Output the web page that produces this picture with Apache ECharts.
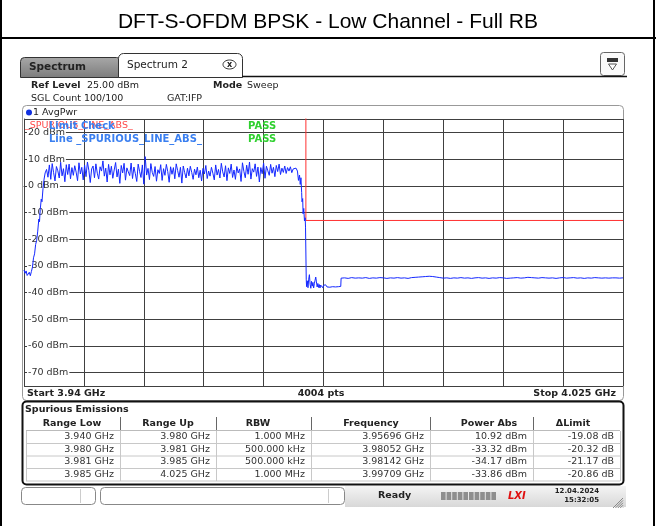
<!DOCTYPE html>
<html>
<head>
<meta charset="utf-8">
<title>Spurious Emissions</title>
<script src="https://cdn.jsdelivr.net/npm/echarts@6/dist/echarts.min.js"></script>
<style>
  html, body { margin: 0; padding: 0; background: #fff; }
  #chart { width: 656px; height: 526px; }
</style>
</head>
<body>
<div id="chart"></div>
<script>
// sweep span, MHz
const startMHz = 3940
const stopMHz = 4025

// limit line (SPURIOUS_LINE_ABS_), MHz / dBm
const limitFreq = [3940, 3980, 3980, 4025]
const limitLevel = [30, 30, -13, -13]

// trace 1 AvgPwr - lower band edge, [MHz, dBm]
const lowEdge = [
  [3940.0, -31.6], [3940.15, -32.8], [3940.3, -31.9], [3940.45, -33.6], [3940.6, -33.9],
  [3940.75, -32.4], [3940.9, -33.7], [3941.05, -32.1], [3941.2, -30.5], [3941.35, -27.0],
  [3941.5, -25.5], [3941.65, -22.0], [3941.8, -20.4], [3941.95, -17.0], [3942.1, -12.5],
  [3942.2, -13.5], [3942.3, -9.0], [3942.45, -5.0], [3942.55, -6.0], [3942.7, -1.0],
  [3942.85, 2.5], [3943.0, 4.8]
]

// in-band part, sampled every 0.2 MHz from 3943.2 MHz
const bandStartMHz = 3943.2
const bandStepMHz = 0.2
const bandLevels = [
  6.1, 3.2, 7.8, 2.4, 8.3, 4.9, 1.8, 7.2, 5.6, 2.9, 8.8, 3.7, 6.4, 1.5, 7.9, 4.2, 8.1, 2.6, 6.8, 3.9,
  7.5, 5.1, 1.9, 8.6, 4.4, 6.9, 2.2, 7.7, 3.4, 8.9, 5.8, 1.2, 6.3, 7.4, 3.0, 8.2, 4.7, 2.5, 7.1, 5.5,
  9.3, 3.6, 6.6, 1.4, 8.0, 4.1, 7.3, 2.8, 5.9, 8.7, 3.3, 6.2, 0.9, 7.6, 4.8, 8.4, 2.1, 6.7, 5.2, 3.8,
  8.5, 2.7, 7.0, 4.5, 1.6, 8.1, 5.4, 3.1, 7.8, 0.6, 10.9, 4.0, 6.5, 2.3, 8.3, 5.0, 3.5, 7.2, 1.7, 6.0,
  4.6, 7.9, 2.0, 6.4, 3.9, 8.0, 5.3, 1.3, 7.1, 4.3, 6.8, 2.6, 8.2, 5.7, 3.2, 6.9, 1.0, 7.4, 4.9, 2.9,
  6.6, 3.7, 7.3, 5.0, 2.4, 6.2, 4.1, 7.0, 3.0, 5.8, 1.8, 6.5, 4.4, 7.6, 2.7, 5.5, 3.6, 6.9, 4.7, 2.2,
  7.8, 4.0, 6.1, 2.9, 8.4, 5.2, 3.3, 7.5, 1.9, 6.7, 4.6, 8.1, 3.1, 5.9, 2.4, 7.2, 4.8, 6.3, 1.6, 8.6,
  5.4, 3.0, 7.7, 4.3, 8.9, 2.5, 6.4, 5.1, 8.2, 3.5, 7.0, 1.4, 6.8, 4.5, 8.5, 2.8, 7.3, 5.6, 3.9, 8.0,
  4.7, 6.9, 3.4, 7.6, 5.3, 8.1, 4.2, 6.6, 5.0, 7.4, 4.6, 6.8, 5.5, 7.1, 4.9, 6.3, 5.8, 6.6
]

// upper band edge, [MHz, dBm]
const highEdge = [
  [3978.8, 5.5], [3978.95, 2.0], [3979.1, 4.0], [3979.2, 0.5], [3979.3, 3.0], [3979.4, -2.5],
  [3979.45, -6.0], [3979.55, -4.8], [3979.6, -10.5], [3979.7, -8.5], [3979.8, -13.2],
  [3979.9, -12.0], [3979.95, -15.5], [3980.05, -35.0]
]

// 500 kHz RBW ranges 3.980 - 3.985 GHz, [MHz, dBm]
const floorA = [
  [3980.1, -37.8], [3980.2, -35.6], [3980.3, -38.2], [3980.4, -35.0], [3980.5, -33.3],
  [3980.6, -36.9], [3980.7, -38.4], [3980.8, -35.8], [3980.9, -37.6], [3981.0, -36.2],
  [3981.1, -38.3], [3981.2, -36.7], [3981.3, -35.4], [3981.4, -34.2], [3981.5, -36.0],
  [3981.6, -37.9], [3981.7, -36.6], [3981.8, -38.1], [3981.9, -37.0], [3982.0, -38.3],
  [3982.1, -37.2], [3982.2, -37.9], [3982.3, -37.4], [3982.4, -38.2], [3982.5, -37.3],
  [3982.6, -37.8], [3982.8, -37.1], [3983.0, -37.9], [3983.2, -37.4], [3983.4, -38.0],
  [3983.6, -37.3], [3983.8, -37.8], [3984.0, -37.2], [3984.2, -37.9], [3984.4, -37.4],
  [3984.6, -37.8], [3984.8, -37.5], [3984.95, -37.7]
]

// 1 MHz RBW range 3.985 - 4.025 GHz, every 0.5 MHz
const floorBStartMHz = 3985
const floorBStepMHz = 0.5
const floorBLevels = [
  -34.6, -34.5, -34.7, -34.4, -34.6, -34.5, -34.6, -34.4, -34.7, -34.5,
  -34.6, -34.4, -34.5, -34.7, -34.5, -34.6, -34.4, -34.6, -34.5, -34.7,
  -34.4, -34.3, -34.2, -34.1, -34.0, -33.9, -34.0, -34.2, -34.4, -34.6,
  -34.5, -34.7, -34.5, -34.6, -34.4, -34.6, -34.5, -34.7, -34.5, -34.4,
  -34.6, -34.5, -34.7, -34.5, -34.6, -34.4, -34.5, -34.7, -34.6, -34.5,
  -34.4, -34.6, -34.5, -34.3, -34.4, -34.5, -34.6, -34.4, -34.5, -34.6,
  -34.5, -34.7, -34.5, -34.4, -34.6, -34.5, -34.4, -34.6, -34.5, -34.7,
  -34.5, -34.6, -34.4, -34.5, -34.6, -34.5, -34.6, -34.5, -34.5, -34.6, -34.5
]

// spurious emissions table
const tableHead = ['Range Low', 'Range Up', 'RBW', 'Frequency', 'Power Abs', '\u0394Limit']
const rangeLow = ['3.940 GHz', '3.980 GHz', '3.981 GHz', '3.985 GHz']
const rangeUp = ['3.980 GHz', '3.981 GHz', '3.985 GHz', '4.025 GHz']
const rbw = ['1.000 MHz', '500.000 kHz', '500.000 kHz', '1.000 MHz']
const peakFreq = ['3.95696 GHz', '3.98052 GHz', '3.98142 GHz', '3.99709 GHz']
const powerAbs = ['10.92 dBm', '-33.32 dBm', '-34.17 dBm', '-33.86 dBm']
const deltaLimit = ['-19.08 dB', '-20.32 dB', '-21.17 dB', '-20.86 dB']

// build trace (x as offset from start so the 8.5 MHz grid starts at 0)
const trace = []
lowEdge.forEach(p => trace.push([p[0] - startMHz, p[1]]))
bandLevels.forEach((v, i) => trace.push([bandStartMHz + i * bandStepMHz - startMHz, v]))
highEdge.forEach(p => trace.push([p[0] - startMHz, p[1]]))
floorA.forEach(p => trace.push([p[0] - startMHz, p[1]]))
floorBLevels.forEach((v, i) => trace.push([floorBStartMHz + i * floorBStepMHz - startMHz, v]))

const limit = limitFreq.map((f, i) => [f - startMHz, limitLevel[i]])

// ---- screen chrome (graphic elements) ----
const ui = '"DejaVu Sans", Verdana, sans-serif'
const g = []

function text(x, y, s, o) {
  o = o || {}
  g.push({
    type: 'text', x: x, y: y, z: o.z || 20,
    style: {
      text: s,
      font: (o.bold ? 'bold ' : '') + (o.size || 9.5) + 'px ' + ui,
      fill: o.color || '#222',
      align: o.align || 'left',
      verticalAlign: 'middle'
    }
  })
}
function rect(x, y, w, h, o) {
  o = o || {}
  g.push({
    type: 'rect', z: o.z || 5,
    shape: { x: x, y: y, width: w, height: h, r: o.r || 0 },
    style: { fill: o.fill || 'none', stroke: o.stroke || null, lineWidth: o.lw || 1 }
  })
}
function line(x1, y1, x2, y2, color, lw) {
  g.push({
    type: 'line', z: 6,
    shape: { x1: x1, y1: y1, x2: x2, y2: y2 },
    style: { stroke: color, lineWidth: lw || 1 }
  })
}

// outer frame of the document cell
line(1, 0, 1, 526, '#000', 2)
line(654, 0, 654, 526, '#000', 2)
line(0, 38, 656, 38, '#000', 2)

// tabs
rect(20.5, 57.5, 100, 20, {
  r: [4, 4, 0, 0], stroke: '#333',
  fill: { type: 'linear', x: 0, y: 0, x2: 0, y2: 1, colorStops: [{ offset: 0, color: '#a8a8a8' }, { offset: 1, color: '#7c7c7c' }] }
})
text(29, 67, 'Spectrum', { bold: true, size: 10.5, color: '#222' })
rect(118.5, 53.5, 124, 24, { r: [5, 5, 0, 0], stroke: '#333', fill: '#fff', z: 6 })
text(127, 65, 'Spectrum 2', { size: 10.5, color: '#222' })
g.push({ type: 'ellipse', z: 21, shape: { cx: 229.5, cy: 64.5, rx: 6.5, ry: 4.5 }, style: { fill: '#fff', stroke: '#333', lineWidth: 1 } })
text(229.5, 64.5, 'x', { size: 8, align: 'center', color: '#222', bold: true, z: 22 })
line(242, 76.5, 627, 76.5, '#111', 1.5)

// top right icon
rect(600.5, 52.5, 24, 23, { r: 3, stroke: '#666', fill: '#fafafa' })
rect(607, 58, 11, 4, { fill: '#333' })
g.push({ type: 'polygon', z: 21, shape: { points: [[608.5, 64], [616.5, 64], [612.5, 70]] }, style: { fill: '#fff', stroke: '#555', lineWidth: 1 } })

// header info
text(31, 85.5, 'Ref Level', { bold: true })
text(87, 85.5, '25.00 dBm')
text(213, 85.5, 'Mode', { bold: true })
text(247, 85.5, 'Sweep')
text(31, 99, 'SGL Count 100/100')
text(167, 99, 'GAT:IFP')

// diagram frame
rect(22.5, 105.5, 601, 295, { r: 4, stroke: '#999', fill: '#fff', z: -1 })
g.push({ type: 'circle', z: 21, shape: { cx: 29, cy: 112.5, r: 3 }, style: { fill: '#1030e0' } })
text(33, 112.5, '1 AvgPwr', { size: 9.5, color: '#222' })

// limit check annotations
text(25, 126, '_SPURIOUS_LINE_ABS_', { size: 9.5, color: '#ff4a4a' })
text(49, 126, 'Limit Check', { bold: true, size: 10, color: '#3a7ff0' })
text(248, 126, 'PASS', { bold: true, size: 10, color: '#2fd02f' })
text(49, 139, 'Line _SPURIOUS_LINE_ABS_', { bold: true, size: 10, color: '#3a7ff0' })
text(248, 139, 'PASS', { bold: true, size: 10, color: '#2fd02f' })

// start / stop row
text(27, 393.5, 'Start 3.94 GHz', { bold: true })
text(321, 393.5, '4004 pts', { bold: true, align: 'center' })
text(616, 393.5, 'Stop 4.025 GHz', { bold: true, align: 'right' })

// spurious emissions table
rect(22.5, 401.5, 601, 83, { r: 4, stroke: '#111', lw: 2, fill: '#fff', z: 4 })
text(25, 409.5, 'Spurious Emissions', { bold: true })
const colEdges = [26, 120, 216, 311, 430, 533, 620]
const headCenters = [72, 168, 258, 371, 489, 573]
const rowMid = [437, 449.5, 462, 474.5]
headCenters.forEach((c, i) => text(c, 423.5, tableHead[i], { bold: true, align: 'center' }))
colEdges.slice(1, 6).forEach(x => line(x + 0.5, 417, x + 0.5, 430, '#666', 1))
line(26, 430.5, 620, 430.5, '#bbb', 1)
;[443, 455.5, 468, 480.5].forEach(y => line(26, y + 0.5, 620, y + 0.5, '#c8c8c8', 1))
colEdges.forEach(x => line(x + 0.5, 431, x + 0.5, 481, '#c8c8c8', 1))
const cols = [rangeLow, rangeUp, rbw, peakFreq, powerAbs, deltaLimit]
cols.forEach((col, c) => {
  col.forEach((s, r) => text(colEdges[c + 1] - 6, rowMid[r], s, { align: 'right', color: '#333' }))
})

// status bar
rect(345, 486, 281, 21, {
  z: 1,
  fill: { type: 'linear', x: 0, y: 0, x2: 0, y2: 1, colorStops: [{ offset: 0, color: '#f4f4f4' }, { offset: 1, color: '#d8d8d8' }] }
})
rect(21.5, 487.5, 74, 17, { r: 4, stroke: '#888', fill: '#fff' })
line(80.5, 489, 80.5, 503, '#ccc', 1)
rect(100.5, 487.5, 244, 17, { r: 4, stroke: '#888', fill: '#fff' })
line(328.5, 489, 328.5, 503, '#ccc', 1)
text(378, 496, 'Ready', { bold: true, color: '#222' })
for (let i = 0; i < 10; i++) rect(441 + i * 5.6, 492, 4.6, 8, { fill: '#8e8e8e', z: 7 })
g.push({
  type: 'text', x: 508, y: 496, z: 21,
  style: { text: 'LXI', font: 'italic bold 10px ' + ui, fill: '#e01010', align: 'left', verticalAlign: 'middle' }
})
text(599, 491.5, '12.04.2024', { bold: true, size: 7, align: 'right', color: '#222' })
text(599, 500, '15:32:05', { bold: true, size: 7, align: 'right', color: '#222' })
for (let i = 0; i < 5; i++) line(613 + i * 2.4, 508, 623, 498 + i * 2.4, '#888', 1)

const chart = echarts.init(document.getElementById('chart'), null, { renderer: 'canvas' })
chart.setOption({
  animation: false,
  title: {
    text: 'DFT-S-OFDM BPSK - Low Channel - Full RB',
    left: 'center',
    top: 7,
    textStyle: { fontFamily: '"Liberation Sans", Arial, sans-serif', fontSize: 21, fontWeight: 'normal', color: '#000' }
  },
  grid: { left: 24, right: 33, top: 119, bottom: 140, outerBoundsMode: 'none', containLabel: false },
  xAxis: {
    type: 'value',
    min: 0,
    max: stopMHz - startMHz,
    interval: 8.5,
    axisLine: { show: true, lineStyle: { color: '#404040', width: 1 } },
    axisTick: { show: false },
    axisLabel: { show: false },
    splitLine: { show: true, lineStyle: { color: '#404040', width: 1 } }
  },
  yAxis: {
    type: 'value',
    min: -75,
    max: 25,
    splitNumber: 10,
    axisLine: { show: true, lineStyle: { color: '#404040', width: 1 } },
    axisTick: { show: false },
    axisLabel: {
      inside: true,
      margin: 3,
      showMinLabel: false,
      showMaxLabel: false,
      formatter: v => v + ' dBm',
      fontFamily: '"DejaVu Sans", Verdana, sans-serif',
      fontSize: 9.5,
      color: '#333',
      backgroundColor: '#fff',
      padding: [0, 1, 0, 1]
    },
    splitLine: { show: true, lineStyle: { color: '#404040', width: 1 } }
  },
  series: [
    {
      name: 'Limit',
      type: 'line',
      data: limit,
      symbol: 'none',
      lineStyle: { color: '#ff3030', width: 1 },
      z: 3
    },
    {
      name: '1 AvgPwr',
      type: 'line',
      data: trace,
      symbol: 'none',
      sampling: null,
      lineStyle: { color: '#1428ff', width: 1 },
      z: 4
    }
  ],
  graphic: { elements: g }
})
</script>
</body>
</html>
